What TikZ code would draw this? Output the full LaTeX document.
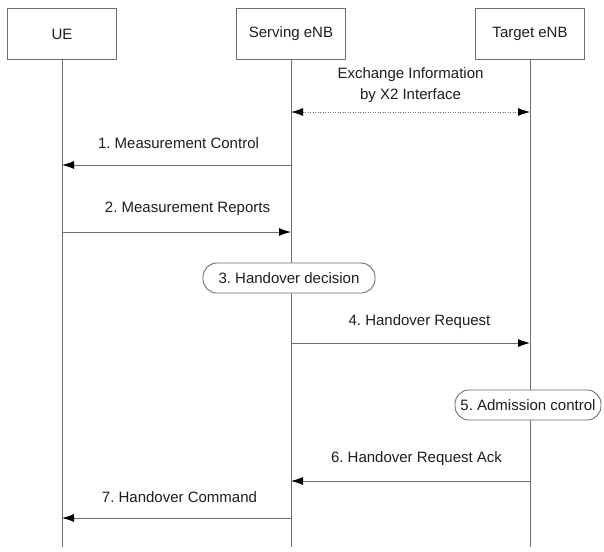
\documentclass[tikz,border=0pt]{standalone}
\usepackage{fontspec}
\setmainfont{Liberation Sans}
\usetikzlibrary{arrows.meta}
\frenchspacing

\definecolor{linegray}{RGB}{110,110,110}
\definecolor{textgray}{RGB}{30,30,30}

\begin{document}
\begin{tikzpicture}[x=1pt,y=-1pt,
	font=\fontsize{15}{21}\selectfont, text=textgray,
	entity/.style={draw=linegray,line width=0.9pt,fill=white,minimum width=109pt,minimum height=51pt,inner sep=0pt},
	life/.style={draw=linegray,line width=0.9pt},
	msg/.style={draw=linegray,line width=0.9pt,-{Latex[length=12pt,width=8pt,color=black]}},
	xchg/.style={draw=linegray,line width=0.9pt,dash pattern=on 1pt off 1.5pt,{Latex[length=12pt,width=8pt,color=black]}-{Latex[length=12pt,width=8pt,color=black]}},
	action/.style={draw=linegray,line width=0.9pt,fill=white,rounded corners=14pt,minimum height=30pt,inner sep=0pt}]
	
	\useasboundingbox[fill=white] (0,0) rectangle (604,551);
	
	% lifelines
	\node[entity] (ue)      at (62,34)  {UE};
	\node[entity] (serving) at (291,34) {Serving eNB};
	\node[entity] (target)  at (530,34) {Target eNB};
	
	\coordinate (ue end)      at (62,547);
	\coordinate (serving end) at (291,547);
	\coordinate (target end)  at (530,547);
	
	\draw[life] (ue)      -- (ue end);
	\draw[life] (serving) -- (serving end);
	\draw[life] (target)  -- (target end);
	
	% X2 exchange
	\coordinate (s0) at (291,112);
	\coordinate (t0) at (530,112);
	\draw[xchg] (s0) -- node[midway,yshift=26.5pt,align=center] {Exchange Information\\by X2 Interface} (t0);
	
	% messages
	\coordinate (s1) at (291,165);
	\coordinate (u1) at (62,165);
	\coordinate (u2) at (62,232);
	\coordinate (s2) at (291,232);
	\coordinate (s4) at (291,343);
	\coordinate (t4) at (530,343);
	\coordinate (t6) at (530,481);
	\coordinate (s6) at (291,481);
	\coordinate (s7) at (291,518);
	\coordinate (u7) at (62,518);
	
	\draw[msg] (s1) -- node[midway,yshift=22pt,xshift=2pt]  {1. Measurement Control}   (u1);
	\draw[msg] (u2) -- node[midway,yshift=23pt,xshift=11pt] {2. Measurement Reports}   (s2);
	\draw[msg] (s4) -- node[midway,yshift=21pt,xshift=9pt]  {4. Handover Request}      (t4);
	\draw[msg] (t6) -- node[midway,yshift=22pt,xshift=6pt]  {6. Handover Request Ack}  (s6);
	\draw[msg] (s7) -- node[midway,yshift=21pt,xshift=3pt]  {7. Handover Command}      (u7);
	
	% local actions
	\node[action,minimum width=172pt] (decision)  at (289,278) {3. Handover decision};
	\node[action,minimum width=146pt] (admission) at (528,405) {5. Admission control};
	
\end{tikzpicture}
\end{document}
